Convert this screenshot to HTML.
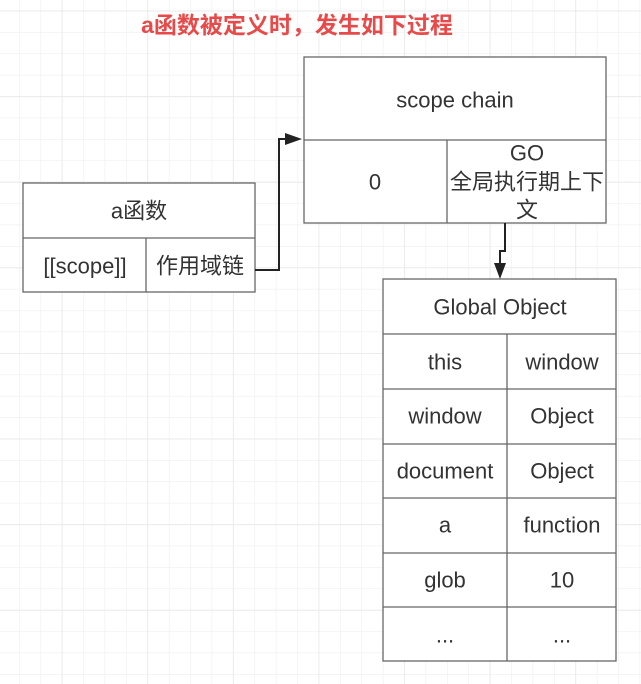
<!DOCTYPE html>
<html><head><meta charset="utf-8"><style>
html,body{margin:0;padding:0;background:#fff;}
svg{display:block;}
text{font-family:"Liberation Sans","Noto Sans CJK SC",sans-serif;fill:#333;font-size:22px;text-anchor:middle;dominant-baseline:central;}
</style></head><body>
<svg width="641" height="684" viewBox="0 0 641 684" xmlns="http://www.w3.org/2000/svg">
<defs>
<pattern id="g" x="19" y="10.6" width="21.4" height="21.4" patternUnits="userSpaceOnUse">
<path d="M0 0V21.4M0 0H21.4" stroke="#efefef" stroke-width="1.2" fill="none"/>
</pattern>
<pattern id="G" x="61.7" y="10.6" width="85.6" height="85.6" patternUnits="userSpaceOnUse">
<path d="M0 0V85.6M0 0H85.6" stroke="#e8e8e8" stroke-width="1.5" fill="none"/>
</pattern>
</defs>
<rect width="641" height="684" fill="url(#g)"/>
<rect width="641" height="684" fill="url(#G)"/>
<text x="297" y="25" style="fill:#e84a4a;font-weight:bold;font-size:23px">a函数被定义时，发生如下过程</text>
<g stroke="#666" stroke-width="1.3" fill="#fff">
<rect x="23" y="183" width="232" height="109"/>
<line x1="23" y1="238" x2="255" y2="238"/>
<line x1="146" y1="238" x2="146" y2="292"/>
<rect x="304" y="57" width="302" height="166"/>
<line x1="304" y1="140" x2="606" y2="140"/>
<line x1="447" y1="140" x2="447" y2="223"/>
<rect x="383" y="279" width="233" height="382"/>
<line x1="383" y1="334" x2="616" y2="334"/>
<line x1="383" y1="389" x2="616" y2="389"/>
<line x1="383" y1="444" x2="616" y2="444"/>
<line x1="383" y1="498" x2="616" y2="498"/>
<line x1="383" y1="553" x2="616" y2="553"/>
<line x1="383" y1="607" x2="616" y2="607"/>
<line x1="507" y1="334" x2="507" y2="661"/>
</g>
<g stroke="#222" stroke-width="2" fill="none">
<path d="M255 270H279V139H290"/>
<path d="M505 223V251H500V266"/>
</g>
<path d="M302 139L285 133V145Z" fill="#222"/>
<path d="M500 279L494 263H506Z" fill="#222"/>
<text x="139" y="211">a函数</text>
<text x="85" y="266">[[scope]]</text>
<text x="200" y="266">作用域链</text>
<text x="455" y="100">scope chain</text>
<text x="375" y="182">0</text>
<text x="527" y="153">GO</text>
<text x="527" y="182">全局执行期上下</text>
<text x="527" y="210">文</text>
<text x="500" y="307">Global Object</text>
<text x="445" y="362">this</text><text x="562" y="362">window</text>
<text x="445" y="416">window</text><text x="562" y="416">Object</text>
<text x="445" y="471">document</text><text x="562" y="471">Object</text>
<text x="445" y="525">a</text><text x="562" y="525">function</text>
<text x="445" y="580">glob</text><text x="562" y="580">10</text>
<text x="445" y="635">...</text><text x="562" y="635">...</text>
</svg>
</body></html>
